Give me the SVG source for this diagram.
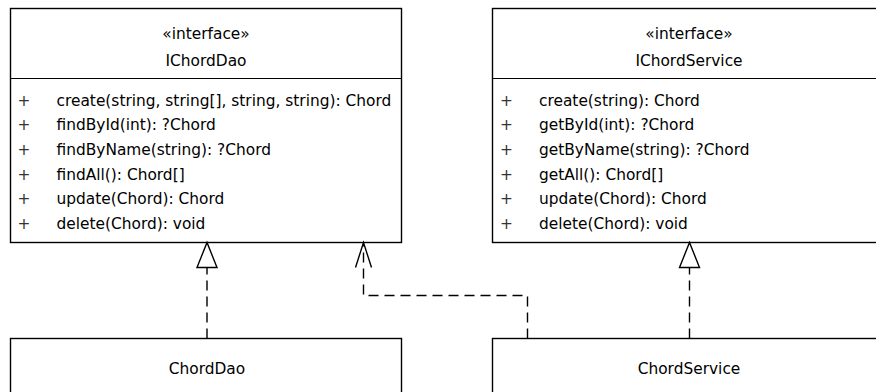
<svg xmlns="http://www.w3.org/2000/svg" width="876" height="392" viewBox="0 0 876 392">
  <style>
    .box { fill: #ffffff; stroke: #000000; stroke-width: 1.4; }
    .sep { stroke: #000000; stroke-width: 1.2; }
    text { font-family: "DejaVu Sans", "Liberation Sans", sans-serif; font-size: 15.4px; fill: #000000; }
    .c { text-anchor: middle; }
    .vis { text-anchor: middle; fill: #333333; }
    .dash { fill: none; stroke: #000000; stroke-width: 1.4; stroke-dasharray: 10 6; }
    .head { fill: #ffffff; stroke: #000000; stroke-width: 1.4; stroke-linejoin: miter; }
    .open { fill: none; stroke: #000000; stroke-width: 1.4; }
  </style>

  <rect width="876" height="392" fill="#ffffff"/>

  <!-- interface: IChordDao -->
  <g id="IChordDao">
    <rect class="box" x="10.5" y="8.5" width="391" height="234"/>
    <line class="sep" x1="10.5" y1="78.5" x2="401.5" y2="78.5"/>
    <text class="c" x="206" y="39">«interface»</text>
    <text class="c" x="206" y="65.5">IChordDao</text>
    <g>
      <text class="vis" x="24" y="105.5">+</text>
      <text class="vis" x="24" y="130.2">+</text>
      <text class="vis" x="24" y="154.9">+</text>
      <text class="vis" x="24" y="179.6">+</text>
      <text class="vis" x="24" y="204.3">+</text>
      <text class="vis" x="24" y="229">+</text>
      <text x="56.5" y="105.5">create(string, string[], string, string): Chord</text>
      <text x="56.5" y="130.2">findById(int): ?Chord</text>
      <text x="56.5" y="154.9">findByName(string): ?Chord</text>
      <text x="56.5" y="179.6">findAll(): Chord[]</text>
      <text x="56.5" y="204.3">update(Chord): Chord</text>
      <text x="56.5" y="229">delete(Chord): void</text>
    </g>
  </g>

  <!-- interface: IChordService -->
  <g id="IChordService">
    <rect class="box" x="492.5" y="8.5" width="391" height="234"/>
    <line class="sep" x1="492.5" y1="78.5" x2="883.5" y2="78.5"/>
    <text class="c" x="689" y="39">«interface»</text>
    <text class="c" x="689" y="65.5">IChordService</text>
    <g>
      <text class="vis" x="506.5" y="105.5">+</text>
      <text class="vis" x="506.5" y="130.2">+</text>
      <text class="vis" x="506.5" y="154.9">+</text>
      <text class="vis" x="506.5" y="179.6">+</text>
      <text class="vis" x="506.5" y="204.3">+</text>
      <text class="vis" x="506.5" y="229">+</text>
      <text x="539" y="105.5">create(string): Chord</text>
      <text x="539" y="130.2">getById(int): ?Chord</text>
      <text x="539" y="154.9">getByName(string): ?Chord</text>
      <text x="539" y="179.6">getAll(): Chord[]</text>
      <text x="539" y="204.3">update(Chord): Chord</text>
      <text x="539" y="229">delete(Chord): void</text>
    </g>
  </g>

  <!-- class: ChordDao -->
  <g id="ChordDao">
    <rect class="box" x="10.5" y="338.5" width="391" height="80"/>
    <text class="c" x="207" y="373.5">ChordDao</text>
  </g>

  <!-- class: ChordService -->
  <g id="ChordService">
    <rect class="box" x="492.5" y="338.5" width="391" height="80"/>
    <text class="c" x="689" y="373.5">ChordService</text>
  </g>

  <!-- relations -->
  <g id="connectors">
    <!-- ChordDao realizes IChordDao -->
    <line class="dash" x1="207" y1="338.5" x2="207" y2="267.5"/>
    <polygon class="head" points="207,242.5 197,267.5 217,267.5"/>

    <!-- ChordService depends on IChordDao -->
    <polyline class="dash" points="527.5,338.5 527.5,295.5 363.5,295.5 363.5,244"/>
    <polyline class="open" points="355.5,267.5 363.5,242.5 371.5,267.5"/>

    <!-- ChordService realizes IChordService -->
    <line class="dash" x1="689.5" y1="338.5" x2="689.5" y2="267.5"/>
    <polygon class="head" points="689.5,242.5 679.5,267.5 699.5,267.5"/>
  </g>
</svg>
